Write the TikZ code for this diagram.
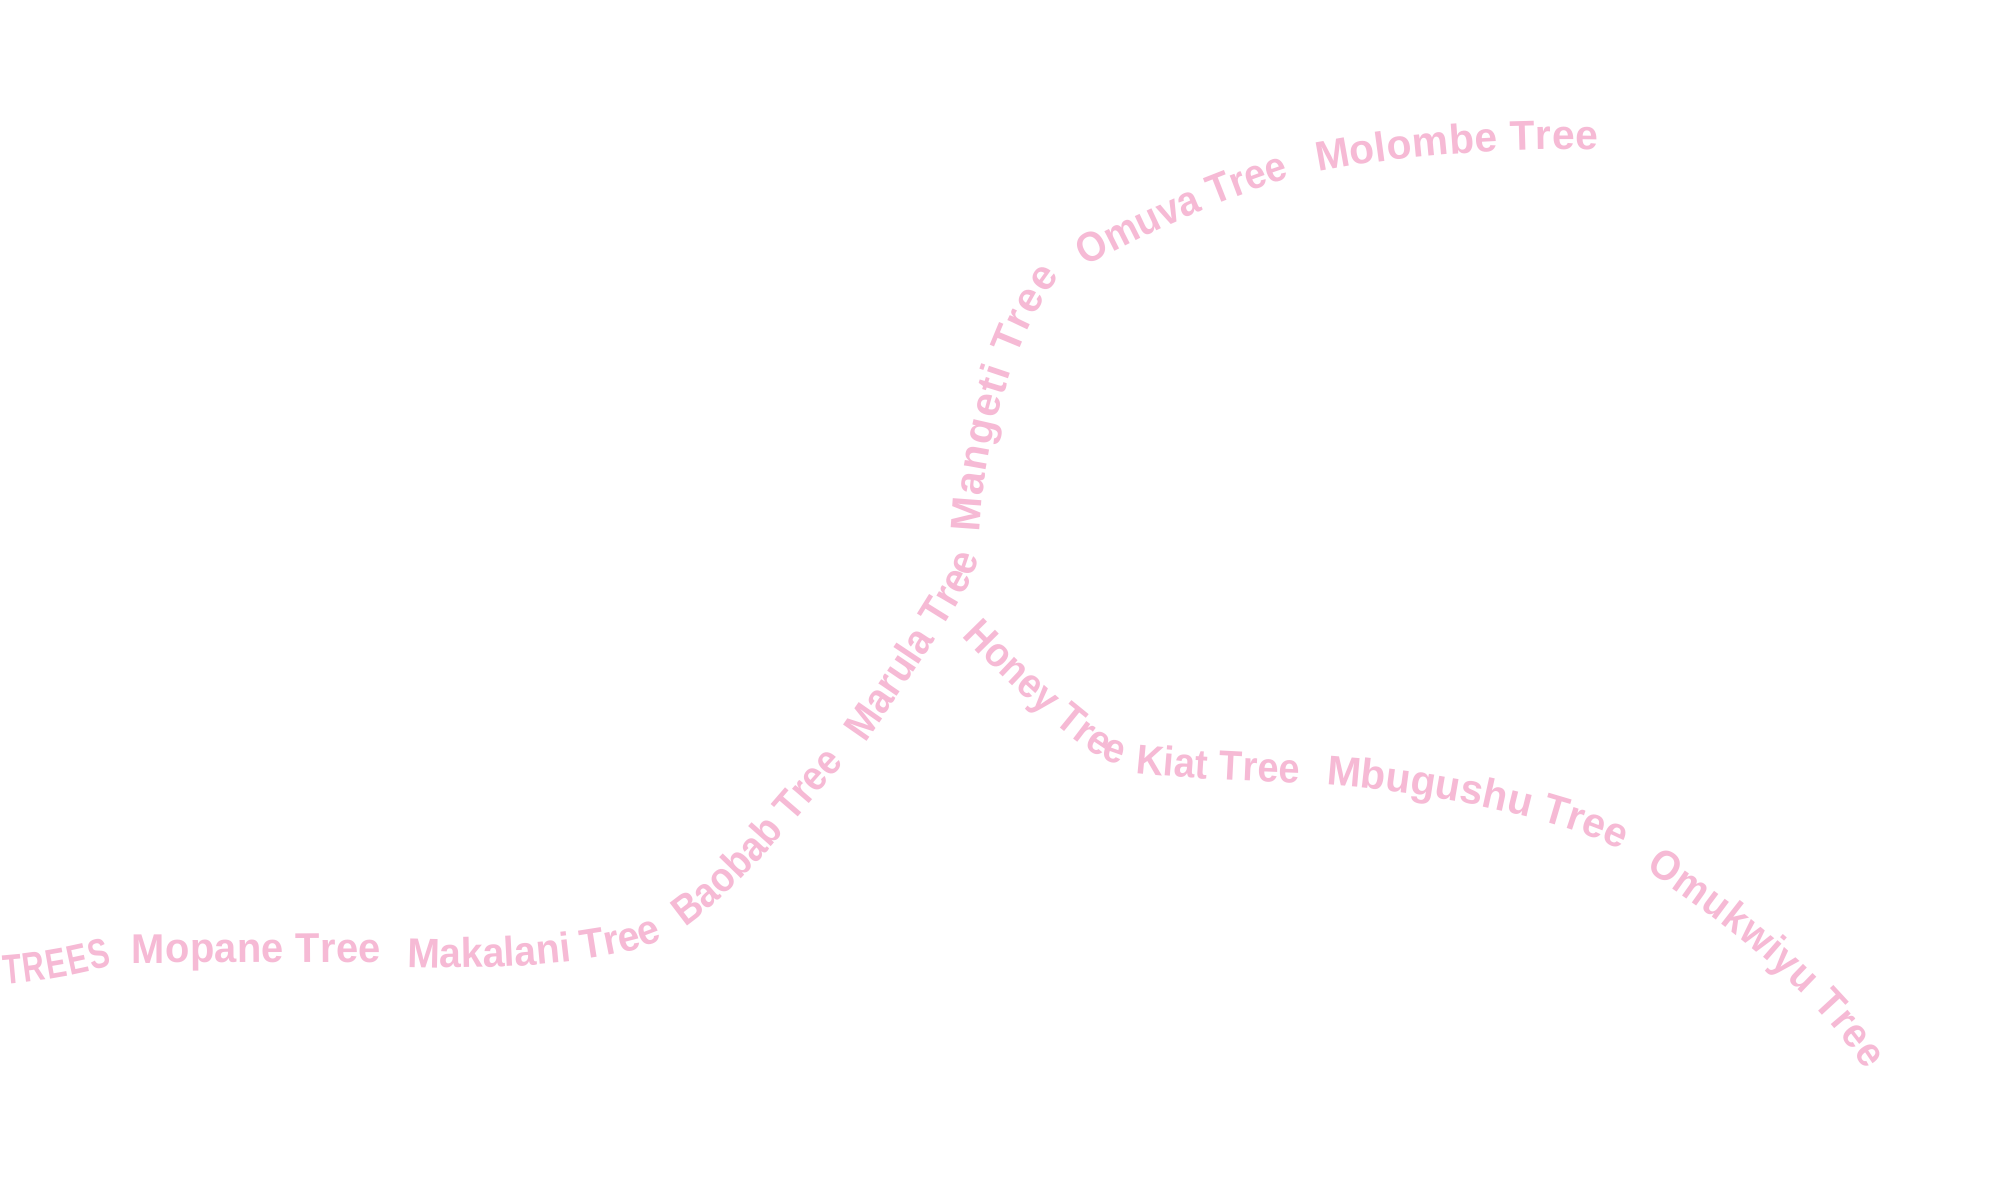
\documentclass[tikz,border=0pt]{standalone}
\usepackage{fontspec}
\usetikzlibrary{decorations.text}
\definecolor{treepink}{RGB}{246,186,213}
\newfontfamily\treeA{Liberation Sans}[FakeStretch=0.74]
\newfontfamily\treeB{Liberation Sans}[FakeStretch=0.96]
\newfontfamily\treeC{Liberation Sans}[FakeStretch=0.94]
\newfontfamily\treeD{Liberation Sans}[FakeStretch=0.90]
\newfontfamily\treeE{Liberation Sans}[FakeStretch=0.94]
\newfontfamily\treeF{Liberation Sans}[FakeStretch=1.00]
\newfontfamily\treeG{Liberation Sans}[FakeStretch=0.92]
\newfontfamily\treeH{Liberation Sans}[FakeStretch=0.98]
\newfontfamily\treeI{Liberation Sans}[FakeStretch=0.91]
\newfontfamily\treeJ{Liberation Sans}[FakeStretch=0.91]
\newfontfamily\treeK{Liberation Sans}[FakeStretch=0.98]
\newfontfamily\treeL{Liberation Sans}[FakeStretch=0.93]
\newcommand\treesize{\bfseries\fontsize{20.8}{24}\selectfont}
\begin{document}
\begin{tikzpicture}[x=0.5pt,y=-0.5pt,
  treelabel/.style={decorate,decoration={text along path,text align={fit to path},text color=treepink}}]
\useasboundingbox (0,0) rectangle (2000,1184);
\fill[white] (0,0) rectangle (2000,1184);
% trunk
\path[treelabel,decoration={text={|\treeA\treesize|TREES}}]
  (4,984) .. controls +(-4:35) and +(164:35) .. (112,965);
\path[treelabel,decoration={text={|\treeB\treesize|Mopane Tree}}]
  (132,963) .. controls +(0:80) and +(180:80) .. (381,962);
\path[treelabel,decoration={text={|\treeC\treesize|Makalani Tree}}]
  (407,967) .. controls +(2:110) and +(154:45) .. (662,940);
\path[treelabel,decoration={text={|\treeD\treesize|Baobab Tree}}]
  (685,927) .. controls +(-35:75) and +(133:75) .. (845,763);
\path[treelabel,decoration={text={|\treeE\treesize|Marula Tree}}]
  (865,743) .. controls +(-55:95) and +(92:20) .. (978,560);
% upper branch
\path[treelabel,decoration={text={|\treeF\treesize|Mangeti Tree}}]
  (980,533) .. controls +(-88:100) and +(130:60) .. (1060,276);
\path[treelabel,decoration={text={|\treeG\treesize|Omuva Tree}}]
  (1086,267) .. controls +(-30:70) and +(162:70) .. (1290,178);
\path[treelabel,decoration={text={|\treeH\treesize|Molombe Tree}}]
  (1318,172) .. controls +(-11:95) and +(181:95) .. (1598,150);
% lower branch
\path[treelabel,decoration={text={|\treeI\treesize|Honey Tree}}]
  (962,636) .. controls +(46:95) and +(192:20) .. (1113,763);
\path[treelabel,decoration={text={|\treeJ\treesize|Kiat Tree}}]
  (1135,773) .. controls +(6:55) and +(182:55) .. (1300,783);
\path[treelabel,decoration={text={|\treeK\treesize|Mbugushu Tree}}]
  (1326,785) .. controls +(4:120) and +(208:60) .. (1620,850);
\path[treelabel,decoration={text={|\treeL\treesize|Omukwiyu Tree}}]
  (1645,870) .. controls +(33:90) and +(238:90) .. (1865,1070);
\end{tikzpicture}
\end{document}
